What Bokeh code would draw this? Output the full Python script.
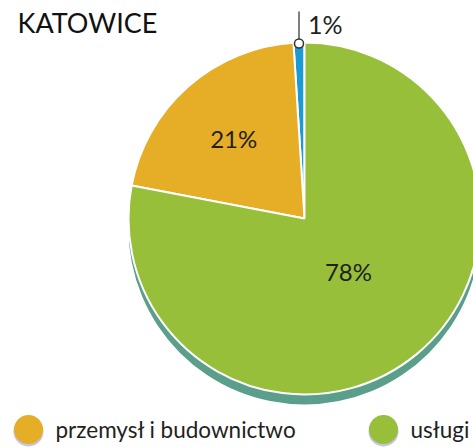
import math
from bokeh.plotting import figure
from bokeh.models import Range1d
from bokeh.core.properties import value
from bokeh.embed import file_html
from bokeh.resources import INLINE

# ---- data ----
title = "KATOWICE"
sectors = ["rolnictwo", "przemysł i budownictwo", "usługi"]
shares = [1, 21, 78]
labels = ["1%", "21%", "78%"]
colors = ["#1b9ad6", "#e6ae27", "#97bf3a"]
legend_items = ["przemysł i budownictwo", "usługi"]
legend_colors = ["#e6ae27", "#97bf3a"]

W, H = 473, 447
p = figure(width=W, height=H, output_backend="svg", toolbar_location=None,
           x_range=Range1d(0, W), y_range=Range1d(0, H), min_border=0)
p.axis.visible = False
p.grid.visible = False
p.outline_line_color = None
p.background_fill_color = "white"

def px(x):
    return x

def py(y):
    return H - y

FONT = value("Lato")
TXT = "#231f20"

cx, cy, R = px(304), py(218), 176

# shadow (3D edge)
p.circle([cx], [cy - 10], radius=R, fill_color="#5a9e8b", line_color=None)

# wedges, counterclockwise from top
total = sum(shares)
start = math.radians(90)
starts, ends = [], []
a = start
for s in shares:
    starts.append(a)
    a += 2 * math.pi * s / total
    ends.append(a)
p.wedge(x=[cx] * 3, y=[cy] * 3, radius=R, start_angle=starts, end_angle=ends,
        fill_color=colors, line_color="white", line_width=2)

# inner labels
label_r = [None, 107, 69]
for i in (1, 2):
    mid = (starts[i] + ends[i]) / 2
    p.text([cx + label_r[i] * math.cos(mid)], [cy + label_r[i] * math.sin(mid)],
           text=[labels[i]], text_font=FONT, text_font_size="24px",
           text_align="center", text_baseline="middle", text_color=TXT)

# outer label for small slice
mid0 = (starts[0] + ends[0]) / 2
ax, ay = cx + (R - 1) * math.cos(mid0), cy + (R - 1) * math.sin(mid0)
p.line([ax, ax], [ay, py(11)], line_color="#555555", line_width=1.5)
p.scatter([ax], [ay], size=9, marker="circle", fill_color="white",
          line_color="#333333", line_width=1.5)
p.text([ax + 9], [py(23)], text=[labels[0]], text_font=FONT, text_font_size="25px",
       text_align="left", text_baseline="middle", text_color=TXT)

# title
p.text([px(17)], [py(22)], text=[title], text_font=FONT, text_font_size="27px",
       text_align="left", text_baseline="middle", text_color="#111111")

# legend
lx = [px(28), px(383)]
ly = py(429)
p.scatter([x for x in lx], [ly - 2] * 2, size=30, marker="circle",
          fill_color="#9c9cd0", fill_alpha=0.6, line_color=None)
p.scatter(lx, [ly] * 2, size=29, marker="circle", fill_color=legend_colors,
          line_color=None)
p.text([x + 27 for x in lx], [ly] * 2, text=legend_items, text_font=FONT,
       text_font_size="22.5px", text_align="left", text_baseline="middle",
       text_color=TXT)

open("out.html", "w").write(file_html(p, INLINE))
